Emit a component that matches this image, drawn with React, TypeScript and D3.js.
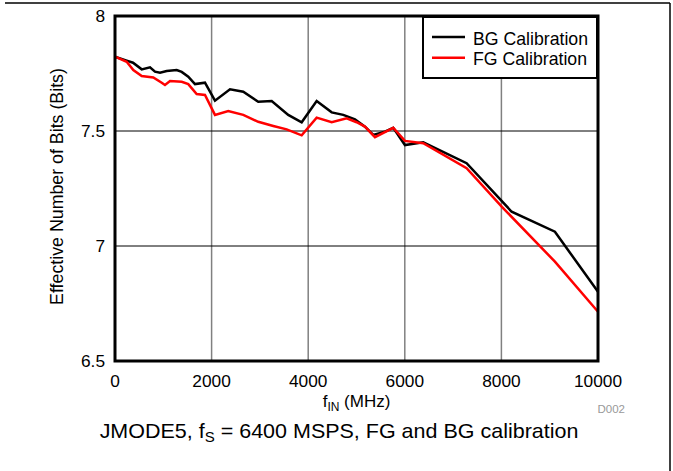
import React from "react";
import * as d3 from "d3";

const bgFreq = [0, 242, 373, 553, 725, 828, 932, 1070, 1277, 1381, 1517, 1656, 1863, 2070, 2381, 2656, 2966, 3244, 3587, 3865, 4175, 4486, 4726, 4968, 5175, 5347, 5589, 5761, 6003, 6382, 7280, 8212, 9108, 10000];
const bgEnob = [7.823, 7.806, 7.797, 7.768, 7.777, 7.758, 7.753, 7.761, 7.765, 7.757, 7.736, 7.704, 7.71, 7.632, 7.681, 7.671, 7.627, 7.63, 7.57, 7.538, 7.63, 7.581, 7.57, 7.551, 7.519, 7.483, 7.497, 7.514, 7.439, 7.451, 7.36, 7.149, 7.062, 6.801];

const fgFreq = [0, 242, 379, 553, 793, 967, 1035, 1139, 1381, 1517, 1691, 1863, 2070, 2345, 2656, 2966, 3277, 3554, 3865, 4175, 4486, 4796, 5003, 5175, 5382, 5761, 6003, 6382, 7280, 8011, 9108, 10000];
const fgEnob = [7.823, 7.801, 7.765, 7.739, 7.733, 7.71, 7.7, 7.717, 7.714, 7.704, 7.661, 7.657, 7.57, 7.587, 7.57, 7.54, 7.522, 7.507, 7.481, 7.558, 7.538, 7.555, 7.538, 7.519, 7.473, 7.514, 7.457, 7.447, 7.338, 7.17, 6.932, 6.714];

const xTicks = [0, 2000, 4000, 6000, 8000, 10000];
const yTicks = [6.5, 7, 7.5, 8];
const yTickLabels = ["6.5", "7", "7.5", "8"];
const seriesNames = ["BG Calibration", "FG Calibration"];
const seriesColors = ["#000000", "#ff0000"];

const FONT = "'Liberation Sans', Arial, Helvetica, sans-serif";

export default function App() {
  const left = 115, right = 598, top = 16, bottom = 361;
  const x = d3.scaleLinear().domain([0, 10000]).range([left, right]);
  const y = d3.scaleLinear().domain([6.5, 8]).range([bottom, top]);
  const line = d3
    .line<[number, number]>()
    .x((d) => x(d[0]))
    .y((d) => y(d[1]));
  const bgData: [number, number][] = bgFreq.map((f, i) => [f, bgEnob[i]]);
  const fgData: [number, number][] = fgFreq.map((f, i) => [f, fgEnob[i]]);
  const series = [bgData, fgData];

  return (
    <svg
      width={673}
      height={471}
      style={{ position: "absolute", left: 0, top: 0, background: "#fff" }}
      fontFamily={FONT}
    >
      <rect x={0} y={0} width={673} height={471} fill="#fff" />
      {/* outer partial frame */}
      <line x1={5} x2={670} y1={3} y2={3} stroke="#000" strokeWidth={1.5} />
      <line x1={670} x2={670} y1={3} y2={471} stroke="#000" strokeWidth={1.5} />

      {/* vertical grid */}
      {xTicks.slice(1, -1).map((t) => (
        <line key={"gx" + t} x1={x(t)} x2={x(t)} y1={top} y2={bottom} stroke="#808080" strokeWidth={1.5} />
      ))}
      {/* horizontal grid */}
      {yTicks.slice(1, -1).map((t) => (
        <line key={"gy" + t} x1={left} x2={right} y1={y(t)} y2={y(t)} stroke="#000" strokeWidth={1} />
      ))}

      {/* series */}
      {series.map((d, i) => (
        <path key={"s" + i} d={line(d) || ""} fill="none" stroke={seriesColors[i]} strokeWidth={2.5} strokeLinejoin="miter" />
      ))}

      {/* frame */}
      <rect x={left} y={top} width={right - left} height={bottom - top} fill="none" stroke="#000" strokeWidth={3} />

      {/* legend */}
      <rect x={423} y={17} width={174} height={61} fill="#fff" stroke="#000" strokeWidth={2} />
      {seriesNames.map((n, i) => (
        <g key={"lg" + i}>
          <line x1={432} x2={465} y1={37 + i * 20.7} y2={37 + i * 20.7} stroke={seriesColors[i]} strokeWidth={2.5} />
          <text x={473} y={45 + i * 20.3} fontSize={17.7} fill="#000">
            {n}
          </text>
        </g>
      ))}

      {/* x tick labels */}
      {xTicks.map((t) => (
        <text key={"xt" + t} x={x(t)} y={387} fontSize={17.3} textAnchor="middle" fill="#000">
          {String(t)}
        </text>
      ))}
      {/* y tick labels */}
      {yTicks.map((t, i) => (
        <text key={"yt" + t} x={105} y={y(t) + 6} fontSize={17.3} textAnchor="end" fill="#000">
          {yTickLabels[i]}
        </text>
      ))}

      {/* axis titles */}
      <text x={(left + right) / 2} y={407} fontSize={17} textAnchor="middle" fill="#000">
        f<tspan fontSize={12} dy={4}>IN</tspan>
        <tspan dy={-4}> (MHz)</tspan>
      </text>
      <text
        transform={`translate(63, 186.5) rotate(-90)`}
        fontSize={17.8}
        textAnchor="middle"
        fill="#000"
      >
        Effective Number of Bits (Bits)
      </text>

      <text x={625} y={413} fontSize={11.5} textAnchor="end" fill="#999">
        D002
      </text>

      <text transform="translate(339, 438) scale(1.075, 1)" x={0} y={0} fontSize={20} textAnchor="middle" fill="#000">
        JMODE5, f<tspan fontSize={14} dy={4}>S</tspan>
        <tspan dy={-4}> = 6400 MSPS, FG and BG calibration</tspan>
      </text>
    </svg>
  );
}
